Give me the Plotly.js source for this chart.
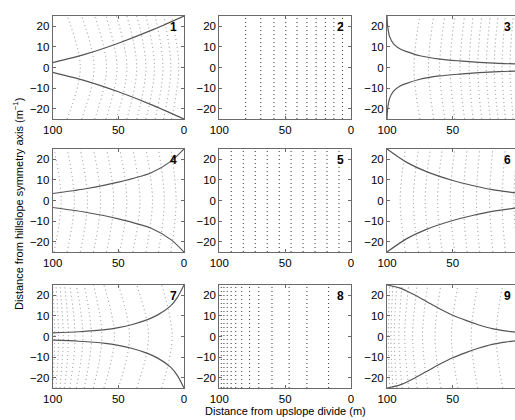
<!DOCTYPE html>
<html><head><meta charset="utf-8">
<script src="https://cdn.plot.ly/plotly-3.0.1.min.js"></script>
<style>html,body{margin:0;padding:0;overflow:hidden;background:#fff;width:515px;height:420px}#plot{width:530px;height:420px}</style>
</head><body><div id="plot"></div>
<script>
// ---- data ----
const xTicks = [100, 50, 0];
const xTickTextCut = ['100', '50', ''];   // right column: its "0" falls outside the picture
const yTicks = [-20, -10, 0, 10, 20];
const yTickText = ['\u221220', '\u221210', '0', '10', '20'];
const panelLabels = ['1','2','3','4','5','6','7','8','9'];
const xTitle = 'Distance from upslope divide (m)';
const yTitle = 'Distance from hillslope symmetry axis (m<sup>\u22121</sup>)';

// hillslope boundaries (upper half, the lower half is its mirror)
const b1x = [100, 75, 50, 25, 0];            const b1y = [2.4, 6.5, 11.8, 18, 25];
const b3x = [100, 99.5, 98, 95, 90, 85, 75, 60, 45, 30, 15, 0];
const b3y = [25, 20, 15, 11.5, 9, 7.7, 5.7, 4.1, 3.2, 2.5, 2, 1.7];
const b4x = [100, 75, 50, 25, 10, 0];        const b4y = [3.4, 5.7, 8.9, 13.5, 19, 25];
const b6x = [100, 85, 70, 50, 35, 20, 0];    const b6y = [25, 18.5, 14, 9.7, 7.3, 5.3, 3.5];
const b7x = [100, 80, 60, 50, 40, 30, 20, 10, 5, 0];
const b7y = [1.8, 2.3, 3.3, 4.3, 5.7, 7.7, 10.5, 15, 19, 25];
const b9x = [100, 90, 80, 70, 60, 50, 40, 30, 20, 10, 0];
const b9y = [25, 23.5, 20.5, 17, 13.5, 10.3, 7.8, 5.6, 3.8, 2.7, 2];

// contour lines: position on the axis (y=0) and at the frame edges (|y|=25)
const c1Centre = [79, 68.5, 59, 51, 43.5, 36, 29, 22.5, 16, 10, 4];
const c1Edge   = [89, 78, 68, 59.5, 51.5, 43.5, 36, 29, 22, 15.5, 9.5];
const c2       = [80, 68.5, 58.5, 49.5, 41, 33.5, 26.5, 19.5, 13, 6.5];
const c3Centre = [79.5, 68.5, 60, 52, 44.5, 37.5, 31, 24.5, 18.5, 12.5, 6.5];
const c3Edge   = [75, 64.5, 56, 48.5, 41, 34.5, 28, 21.5, 15.5, 10, 4];
const c4Centre = [93.5, 83.5, 73.5, 63.5, 53.5, 43.5, 33.5, 24, 15, 6];
const c4Edge   = [99, 89, 79, 69, 59, 49, 39, 29, 19.5, 10];
const c5       = [90.9, 81.8, 72.7, 63.6, 54.5, 45.5, 36.4, 27.3, 18.2, 9.1];
const c6Centre = [90, 80, 71, 61.5, 52, 42, 32, 22, 12.5, 3.5];
const c6Edge   = [86, 76, 67, 58, 48.5, 39, 29.5, 19.5, 10, 1];
const c7Centre = [98.5, 95.5, 92, 88, 83, 77, 70.5, 62.5, 53, 41.5, 27, 9];
const c7Edge   = [100, 97.5, 94.5, 91, 87, 82, 76, 69, 61, 50, 36, 17];
const c8       = [98.5, 96.5, 94, 91, 87.5, 83, 77, 70, 60, 47, 33.5, 17];
const c9Centre = [99, 97, 94.5, 91, 86.5, 80.5, 73, 63.5, 51, 36, 17];
const c9Edge   = [98, 95.5, 92.5, 88.5, 83.5, 77, 69, 59, 46, 31, 12];

// ---- assembly ----
const panels = [
  {bx: b1x, by: b1y, cc: c1Centre, ce: c1Edge},
  {bx: null, by: null, cc: c2, ce: c2},
  {bx: b3x, by: b3y, cc: c3Centre, ce: c3Edge},
  {bx: b4x, by: b4y, cc: c4Centre, ce: c4Edge},
  {bx: null, by: null, cc: c5, ce: c5},
  {bx: b6x, by: b6y, cc: c6Centre, ce: c6Edge},
  {bx: b7x, by: b7y, cc: c7Centre, ce: c7Edge},
  {bx: null, by: null, cc: c8, ce: c8},
  {bx: b9x, by: b9y, cc: c9Centre, ce: c9Edge}
];

const W = 530, H = 420;
const colPx = [[52.7, 184], [219.3, 351], [387, 518.5]];
const rowPx = [[16, 119], [149, 252], [285, 388]];
const font = 'Liberation Sans, Arial, Helvetica, sans-serif';

const traces = [];
const layout = {
  width: W, height: H, margin: {l: 0, r: 0, t: 0, b: 0},
  paper_bgcolor: '#fff', plot_bgcolor: '#fff', showlegend: false,
  font: {family: font, size: 11, color: '#000'},
  annotations: []
};

panels.forEach((p, i) => {
  const r = Math.floor(i / 3), c = i % 3, n = i + 1;
  const xa = 'x' + (n === 1 ? '' : n), ya = 'y' + (n === 1 ? '' : n);
  const straight = p.bx === null;
  p.cc.forEach((xc, k) => {
    const xe = p.ce[k];
    traces.push({
      type: 'scatter', mode: 'lines', xaxis: xa, yaxis: ya, hoverinfo: 'skip',
      x: straight ? [xc, xc] : [xe, xc, xe],
      y: straight ? [-25, 25] : [-25, 0, 25],
      line: {color: straight ? '#333' : '#8a8a8a', width: 1, dash: '1px,3px', shape: straight ? 'linear' : 'spline'}
    });
  });
  if (!straight) {
    traces.push({type: 'scatter', mode: 'lines', xaxis: xa, yaxis: ya, hoverinfo: 'skip',
      x: p.bx, y: p.by, line: {color: '#555', width: 1.2, shape: 'spline', smoothing: 0.8}});
    traces.push({type: 'scatter', mode: 'lines', xaxis: xa, yaxis: ya, hoverinfo: 'skip',
      x: p.bx, y: p.by.map(v => -v), line: {color: '#555', width: 1.2, shape: 'spline', smoothing: 0.8}});
  }
  const common = {showgrid: false, zeroline: false, showline: true, mirror: 'ticks',
    linecolor: '#6a6a6a', linewidth: 1, ticks: 'inside', ticklen: 3, tickcolor: '#6a6a6a',
    tickfont: {family: font, size: 11.5, color: '#000'}, fixedrange: true};
  layout['xaxis' + (n === 1 ? '' : n)] = Object.assign({}, common, {
    domain: [colPx[c][0] / W, colPx[c][1] / W], anchor: ya, range: [100, 0],
    tickvals: xTicks, ticktext: c === 2 ? xTickTextCut : xTicks.map(String)});
  layout['yaxis' + (n === 1 ? '' : n)] = Object.assign({}, common, {
    domain: [1 - rowPx[r][1] / H, 1 - rowPx[r][0] / H], anchor: xa, range: [-25, 25],
    tickvals: yTicks, ticktext: yTickText});
  layout.annotations.push({xref: xa, yref: ya, x: 8, y: 19.5, text: '<b>' + panelLabels[i] + '</b>', showarrow: false,
    font: {family: font, size: 12, color: '#000'}, xanchor: 'center', yanchor: 'middle'});
});

layout.annotations.push({xref: 'paper', yref: 'paper', x: 285.6 / W, y: 1 - 411 / H, text: xTitle,
  showarrow: false, font: {family: font, size: 11, color: '#000'}, xanchor: 'center', yanchor: 'middle'});
layout.annotations.push({xref: 'paper', yref: 'paper', x: 18 / W, y: 1 - 204 / H, text: yTitle, textangle: -90,
  showarrow: false, font: {family: font, size: 11, color: '#000'}, xanchor: 'center', yanchor: 'middle'});

Plotly.newPlot('plot', traces, layout, {staticPlot: true, displayModeBar: false});
</script></body></html>
